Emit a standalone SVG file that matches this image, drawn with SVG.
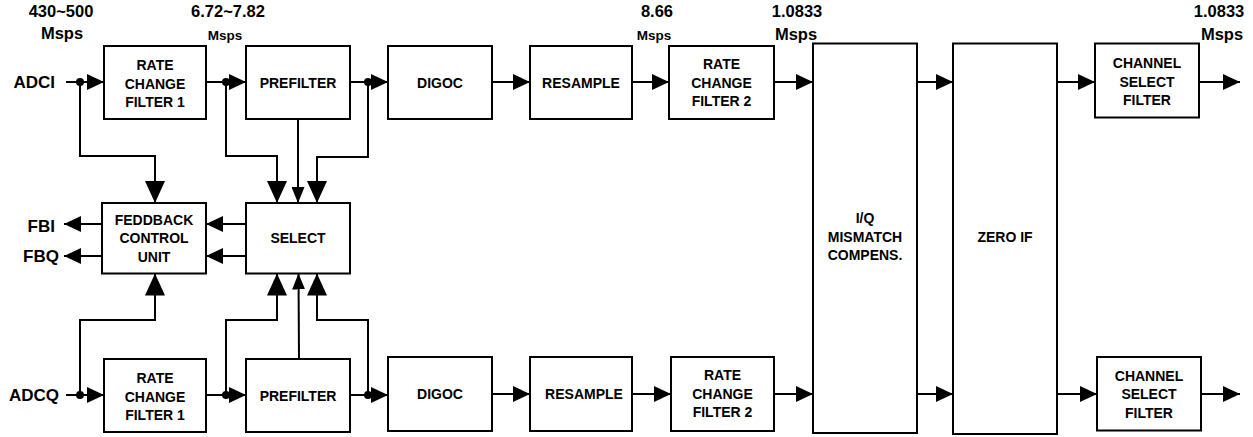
<svg xmlns="http://www.w3.org/2000/svg" width="1253" height="437" viewBox="0 0 1253 437">
<style>
.box{fill:#fff;stroke:#000;stroke-width:2}
.lbl{font-family:"Liberation Sans",Arial,sans-serif;font-weight:bold;font-size:14px;text-anchor:middle;fill:#000}
.rate{font-family:"Liberation Sans",Arial,sans-serif;font-weight:bold;font-size:16.5px;text-anchor:middle;fill:#000}
.rs{font-family:"Liberation Sans",Arial,sans-serif;font-weight:bold;font-size:13.5px;text-anchor:middle;fill:#000}
.io{font-family:"Liberation Sans",Arial,sans-serif;font-weight:bold;font-size:17px;text-anchor:end;fill:#000}
.ln{fill:none;stroke:#000;stroke-width:2}
.fl{marker-end:url(#arr)}
.bg{marker-end:url(#big)}
.sm{marker-end:url(#small)}
</style>
<defs>
<marker id="arr" viewBox="0 0 17 16" refX="17" refY="8" markerWidth="17" markerHeight="16" markerUnits="userSpaceOnUse" orient="auto"><path d="M0,0 L17,8 L0,16 z" fill="#000"/></marker>
<marker id="big" viewBox="0 0 22 20" refX="22" refY="10" markerWidth="22" markerHeight="20" markerUnits="userSpaceOnUse" orient="auto"><path d="M0,0 L22,10 L0,20 z" fill="#000"/></marker>
<marker id="small" viewBox="0 0 16 13" refX="16" refY="6.5" markerWidth="16" markerHeight="13" markerUnits="userSpaceOnUse" orient="auto"><path d="M0,0 L16,6.5 L0,13 z" fill="#000"/></marker>
</defs>
<rect width="1253" height="437" fill="#fff"/>

<g id="rates">
<text class="rate" x="61" y="17">430~500</text>
<text class="rate" x="62" y="39">Msps</text>
<text class="rate" x="228" y="17">6.72~7.82</text>
<text class="rs" x="225" y="40">Msps</text>
<text class="rate" x="657" y="17">8.66</text>
<text class="rs" x="654" y="40">Msps</text>
<text class="rate" x="797" y="17">1.0833</text>
<text class="rate" x="796" y="40">Msps</text>
<text class="rate" x="1219" y="17">1.0833</text>
<text class="rate" x="1222" y="40">Msps</text>
</g>

<g id="io">
<text class="io" x="55" y="88">ADCI</text>
<text class="io" x="59" y="401">ADCQ</text>
<text class="io" x="55" y="232">FBI</text>
<text class="io" x="59" y="262">FBQ</text>
</g>

<g id="connectors">
<path class="ln fl" d="M66,82 H104"/>
<path class="ln fl" d="M206,82 H246"/>
<path class="ln fl" d="M350,82 H388"/>
<path class="ln fl" d="M492,82 H530"/>
<path class="ln fl" d="M632,82 H669"/>
<path class="ln fl" d="M774,82 H813"/>
<path class="ln fl" d="M917,82 H953"/>
<path class="ln fl" d="M1057,82 H1095"/>
<path class="ln fl" d="M1199,82 H1240"/>
<path class="ln bg" d="M80,82 V156 H155 V203"/>
<path class="ln bg" d="M226,82 V156 H277 V203"/>
<path class="ln sm" d="M298,119 V203"/>
<path class="ln bg" d="M368,82 V157 H317 V203"/>
<path class="ln fl" d="M246,224 H206"/>
<path class="ln fl" d="M246,256 H206"/>
<path class="ln fl" d="M102,224 H64"/>
<path class="ln fl" d="M102,256 H64"/>
<path class="ln fl" d="M66,395 H104"/>
<path class="ln fl" d="M206,395 H246"/>
<path class="ln fl" d="M350,395 H388"/>
<path class="ln fl" d="M492,394 H530"/>
<path class="ln fl" d="M632,394 H671"/>
<path class="ln fl" d="M774,394 H813"/>
<path class="ln fl" d="M917,394 H953"/>
<path class="ln fl" d="M1057,394 H1097"/>
<path class="ln fl" d="M1201,394 H1240"/>
<path class="ln bg" d="M80,395 V320 H155 V273.5"/>
<path class="ln bg" d="M226,395 V320 H277 V273.5"/>
<path class="ln sm" d="M299,359 L298.5,273.5"/>
<path class="ln bg" d="M368,395 V320 H317 V273.5"/>
<circle cx="80" cy="82" r="4"/>
<circle cx="226" cy="82" r="4"/>
<circle cx="368" cy="82" r="4"/>
<circle cx="80" cy="395" r="4"/>
<circle cx="226" cy="395" r="4"/>
<circle cx="368" cy="395" r="4"/>
</g>

<g id="rcf1-i"><rect class="box" x="104" y="46" width="102" height="73"/>
<text class="lbl" x="155" y="70">RATE</text><text class="lbl" x="155" y="88.5">CHANGE</text><text class="lbl" x="155" y="107">FILTER 1</text></g>
<g id="prefilter-i"><rect class="box" x="246" y="46" width="104" height="73"/>
<text class="lbl" x="298" y="88">PREFILTER</text></g>
<g id="digoc-i"><rect class="box" x="388" y="46" width="104" height="73"/>
<text class="lbl" x="440" y="87.5">DIGOC</text></g>
<g id="resample-i"><rect class="box" x="530" y="46" width="102" height="73"/>
<text class="lbl" x="581" y="87.5">RESAMPLE</text></g>
<g id="rcf2-i"><rect class="box" x="669" y="46" width="105" height="73"/>
<text class="lbl" x="721.5" y="69">RATE</text><text class="lbl" x="721.5" y="87.5">CHANGE</text><text class="lbl" x="721.5" y="106">FILTER 2</text></g>
<g id="iq"><rect class="box" x="813" y="43.5" width="104" height="389.5"/>
<text class="lbl" x="865" y="223">I/Q</text><text class="lbl" x="865" y="241.5">MISMATCH</text><text class="lbl" x="865" y="260">COMPENS.</text></g>
<g id="zeroif"><rect class="box" x="953" y="43.5" width="104" height="390.5"/>
<text class="lbl" x="1005" y="241.5">ZERO IF</text></g>
<g id="chsel-i"><rect class="box" x="1095" y="43.5" width="104" height="74"/>
<text class="lbl" x="1147" y="68">CHANNEL</text><text class="lbl" x="1147" y="86.5">SELECT</text><text class="lbl" x="1147" y="105">FILTER</text></g>

<g id="feedback"><rect class="box" x="102" y="203" width="104" height="70.5"/>
<text class="lbl" x="154" y="225">FEDDBACK</text><text class="lbl" x="154" y="243">CONTROL</text><text class="lbl" x="154" y="261.5">UNIT</text></g>
<g id="select"><rect class="box" x="246" y="203" width="104" height="70.5"/>
<text class="lbl" x="298" y="243">SELECT</text></g>

<g id="rcf1-q"><rect class="box" x="104" y="359" width="102" height="73"/>
<text class="lbl" x="155" y="383">RATE</text><text class="lbl" x="155" y="401.5">CHANGE</text><text class="lbl" x="155" y="420">FILTER 1</text></g>
<g id="prefilter-q"><rect class="box" x="246" y="359" width="104" height="73"/>
<text class="lbl" x="298" y="401">PREFILTER</text></g>
<g id="digoc-q"><rect class="box" x="388" y="357" width="104" height="74"/>
<text class="lbl" x="440" y="398.5">DIGOC</text></g>
<g id="resample-q"><rect class="box" x="530" y="357" width="102" height="74"/>
<text class="lbl" x="584" y="398.5">RESAMPLE</text></g>
<g id="rcf2-q"><rect class="box" x="671" y="357" width="103" height="74"/>
<text class="lbl" x="722.5" y="380">RATE</text><text class="lbl" x="722.5" y="398.5">CHANGE</text><text class="lbl" x="722.5" y="417">FILTER 2</text></g>
<g id="chsel-q"><rect class="box" x="1097" y="357" width="104" height="73.5"/>
<text class="lbl" x="1149" y="380.5">CHANNEL</text><text class="lbl" x="1149" y="399">SELECT</text><text class="lbl" x="1149" y="417.5">FILTER</text></g>
</svg>
